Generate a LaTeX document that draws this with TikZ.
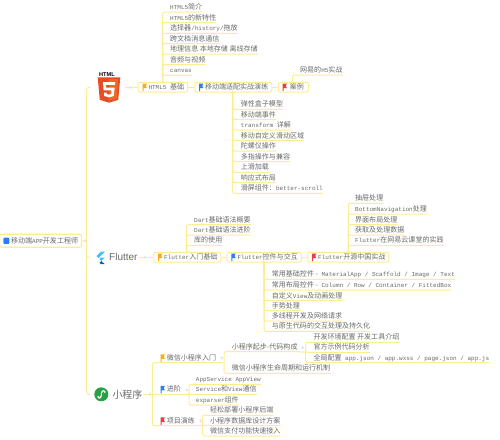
\documentclass[tikz,border=0pt]{standalone}
\usepackage{fontspec}
\setmainfont{Liberation Mono}
\setsansfont{Liberation Sans}
\newfontfamily\cjk[Scale=1.17]{Noto Sans CJK SC}
\newcommand{\zh}[1]{{\cjk #1}}
\definecolor{trunk}{RGB}{255,236,145}
\definecolor{inktext}{RGB}{105,105,105}
\definecolor{dotblue}{RGB}{222,230,245}
\definecolor{flagorange}{RGB}{255,170,20}
\definecolor{flagblue}{RGB}{45,125,250}
\definecolor{flagred}{RGB}{240,60,60}
\definecolor{htmlred}{RGB}{228,77,38}
\definecolor{htmlorange}{RGB}{241,101,41}
\definecolor{flutlight}{RGB}{70,190,245}
\definecolor{flutdark}{RGB}{20,100,170}
\definecolor{miniGreen}{RGB}{40,160,70}
\usepackage{tikz}
\usetikzlibrary{positioning,calc}

\begin{document}
\begin{tikzpicture}[x=1pt,y=-1pt,
          link/.style={draw=trunk,line width=1pt,rounded corners=2pt},
          leaf/.style={anchor=south west,inner xsep=0pt,inner ysep=1pt,text=inktext,
                      font=\fontsize{6}{7}\selectfont,text height=5.5pt,text depth=1.2pt},
          frame/.style={draw=trunk,line width=1pt,rounded corners=2pt,anchor=west,text=inktext,
                      font=\fontsize{6}{7}\selectfont,inner ysep=0pt,inner xsep=3.5pt},
          box/.style={frame,minimum height=9.8pt,execute at begin node=\hspace*{6.8pt}},
          rootbox/.style={frame,line width=1.2pt,minimum height=13pt,execute at begin node=\hspace*{8pt}},
          title/.style={anchor=west,inner sep=0pt,text=inktext},
          dot/.style={circle,fill=dotblue,inner sep=0pt,minimum size=3.2pt},
          knob/.style={circle,fill=trunk,inner sep=0pt,minimum size=3pt}
        ]
        \useasboundingbox (0,0) rectangle (500,439);
        % root and main branch
        \node[rootbox] (root) at (-1,240.7) {\zh{移动端}APP\zh{开发工程师}};
        \coordinate (main) at (86.7,240.7);
        \coordinate (mhtml) at (90,87.4);
        \coordinate (mflut) at (90,257.2);
        \coordinate (mmini) at (90,394.3);
        \draw[link] (root) -- (main);
        \draw[link] (main) |- (mhtml);
        \draw[link] (main) |- (mmini);
        \draw[link] (main) -- (main |- mflut) -- (mflut);
        \node[dot] (rootdot) at (84.7,240.7) {};

        % html5 topic
        \node[title,font=\sffamily\bfseries\fontsize{5.6}{6}\selectfont,text=black] (htmlname) at (99,74.3) {HTML};
        \fill[htmlred] (97.7,77.3) -- (120.3,77.3) -- (118.2,99.8) -- (109,102.7) -- (99.8,99.8) -- cycle;
        \fill[htmlorange] (109,79) -- (118.2,79) -- (116.6,98.6) -- (109,100.8) -- cycle;
        \fill[white] (103,82) -- (115.2,82) -- (114.9,84.8) -- (106,84.8) -- (106.2,87.7) -- (114.6,87.7) -- (113.8,96) -- (109,97.4) -- (104.2,96) -- (103.9,92.6) -- (106.6,92.6) -- (106.8,94) -- (109,94.7) -- (111.2,94) -- (111.5,90.4) -- (103.6,90.4) -- cycle;
        \node[box] (basic) at (137.7,87.2) {HTML5 \zh{基础}};
        \node[box] (mobile) at (194.3,87.2) {\zh{移动端适配实战演练}};
        \node[box] (case) at (278,87.2) {\hspace*{1pt}\zh{案例}\hspace*{1pt}};
        \coordinate (htmlend) at (125,87.4);
        \draw[link] (htmlend) -- (basic);
        \draw[link] (basic) -- (mobile);
        \draw[link] (mobile) -- (case);
        \node[dot] (htmldot) at (130,87.4) {};

        \coordinate (basictop) at (162.7,82.3);
        \node[leaf] (h1) at (170,12)   {HTML5\zh{简介}};
        \node[leaf] (h2) at (170,22.7) {HTML5\zh{的新特性}};
        \node[leaf] (h3) at (170,33.3) {\zh{选择器}/history/\zh{拖放}};
        \node[leaf] (h4) at (170,43.7) {\zh{跨文档消息通信}};
        \node[leaf] (h5) at (170,54)   {\zh{地理信息 本地存储 离线存储}};
        \node[leaf] (h6) at (170,64.7) {\zh{音频与视频}};
        \node[leaf] (h7) at (170,75.3) {canvas};
        \foreach \n in {h1,h2,h3,h4,h5,h6,h7}
          \draw[link] (basictop) |- (\n.south east);

        \coordinate (casetop) at (292.7,82.3);
        \node[leaf] (c1) at (300,75) {\zh{网易的}H5\zh{实战}};
        \draw[link] (casetop) |- (c1.south east);

        \coordinate (mobilebot) at (232.7,92.1);
        \node[leaf] (m1) at (240.7,109.3) {\zh{弹性盒子模型}};
        \node[leaf] (m2) at (240.7,119.7) {\zh{移动端事件}};
        \node[leaf] (m3) at (240.7,130)   {transform \zh{详解}};
        \node[leaf] (m4) at (240.7,140.7) {\zh{移动自定义滑动区域}};
        \node[leaf] (m5) at (240.7,151)   {\zh{陀螺仪操作}};
        \node[leaf] (m6) at (240.7,161.7) {\zh{多指操作与兼容}};
        \node[leaf] (m7) at (240.7,172.3) {\zh{上滑加载}};
        \node[leaf] (m8) at (240.7,182.7) {\zh{响应式布局}};
        \node[leaf] (m9) at (240.7,193.3) {\zh{滑屏组件：}better-scroll};
        \foreach \n in {m1,m2,m3,m4,m5,m6,m7,m8,m9}
          \draw[link] (mobilebot) |- (\n.south east);

        % flutter topic
        \fill[flutlight] (100.8,251.7) -- (104.8,251.7) -- (98.4,258.1) -- (96.4,256.1) -- cycle;
        \fill[flutlight] (100.8,257.6) -- (104.8,257.6) -- (101.4,261) -- (99.4,259) -- cycle;
        \fill[flutdark] (99.4,262.9) -- (101.4,261) -- (104.8,264.2) -- (100.8,264.2) -- cycle;
        \node[title,font=\sffamily\fontsize{10}{11}\selectfont] (fluttername) at (109,257.2) {Flutter};
        \node[box] (fstart) at (153.3,257.2) {Flutter\zh{入门基础}};
        \node[box] (fctrl) at (226.7,257.2) {Flutter\zh{控件与交互}};
        \node[box] (fproj) at (307.3,257.2) {Flutter\zh{开源中国实战}};
        \draw[link] (fluttername) -- (fstart);
        \draw[link] (fstart) -- (fctrl);
        \draw[link] (fctrl) -- (fproj);
        \node[dot] (flutdot) at (145,257.2) {};

        \coordinate (fstarttop) at (186.7,252.3);
        \node[leaf] (d1) at (194,224.7) {Dart\zh{基础语法概要}};
        \node[leaf] (d2) at (194,235)   {Dart\zh{基础语法进阶}};
        \node[leaf] (d3) at (194,245.3) {\zh{库的使用}};
        \foreach \n in {d1,d2,d3}
          \draw[link] (fstarttop) |- (\n.south east);

        \coordinate (fprojtop) at (348.3,252.3);
        \node[leaf] (p1) at (355,203.3) {\zh{抽屉处理}};
        \node[leaf] (p2) at (355,214)   {BottomNavigation\zh{处理}};
        \node[leaf] (p3) at (355,224.7) {\zh{界面布局处理}};
        \node[leaf] (p4) at (355,235)   {\zh{获取及处理数据}};
        \node[leaf] (p5) at (355,245.3) {Flutter\zh{在网易云课堂的实践}};
        \foreach \n in {p1,p2,p3,p4,p5}
          \draw[link] (fprojtop) |- (\n.south east);

        \coordinate (fctrlbot) at (264,262.1);
        \node[leaf] (k1) at (271.7,279.3) {\zh{常用基础控件 -} MaterialApp / Scaffold / Image / Text};
        \node[leaf] (k2) at (271.7,290)   {\zh{常用布局控件 -} Column / Row / Container / FittedBox};
        \node[leaf] (k3) at (271.7,300.7) {\zh{自定义}View\zh{及动画处理}};
        \node[leaf] (k4) at (271.7,310.7) {\zh{手势处理}};
        \node[leaf] (k5) at (271.7,321)   {\zh{多线程开发及网络请求}};
        \node[leaf] (k6) at (271.7,331.3) {\zh{与原生代码的交互处理及持久化}};
        \foreach \n in {k1,k2,k3,k4,k5,k6}
          \draw[link] (fctrlbot) |- (\n.south east);

        % mini program topic
        \fill[miniGreen] (101.3,394.3) circle (7);
        \draw[white,line width=1.2pt] (98,396) .. controls (98,399) and (101,398.5) .. (101.3,395.5) -- (101.5,393) .. controls (102,390) and (105,390) .. (105,392.7);
        \node[title,font=\fontsize{8.5}{10}\selectfont] (mininame) at (112.3,394.3) {\zh{小程序}};
        \coordinate (minifork) at (152.3,394.3);
        \draw[link] (mininame) -- (minifork);
        \node[dot] (minidot) at (150,394.3) {};
        \node[leaf] (w1) at (166.7,362.7) {\zh{微信小程序入门}};
        \node[leaf] (w2) at (166.7,394.3) {\zh{进阶}};
        \node[leaf] (w3) at (166.7,425.7) {\zh{项目演练}};
        \draw[link] (minifork) |- (222.7,362.7);
        \draw[link] (minifork) |- (196.7,425.7);
        \draw[link] (minifork) -- (185,394.3);
        \node[dot] (w1dot) at (221.7,358) {};
        \node[dot] (w2dot) at (186.7,390) {};
        \node[dot] (w3dot) at (200.7,421) {};

        \coordinate (w1fork) at (224,362.7);
        \node[leaf] (s1) at (231.7,351.7) {\zh{小程序起步-代码构成}};
        \node[leaf] (s2) at (231.7,373.3) {\zh{微信小程序生命周期和运行机制}};
        \foreach \n in {s1,s2}
          \draw[link] (w1fork) |- (\n.south east);
        \node[dot] (s1dot) at (302.7,347.7) {};
        \coordinate (s1fork) at (305.7,352.3);
        \draw[link] (s1.south east) -- (s1fork);
        \node[leaf] (t1) at (313.3,342.3) {\zh{开发环境配置 开发工具介绍}};
        \node[leaf] (t2) at (313.3,352.3) {\zh{官方示例代码分析}};
        \node[leaf] (t3) at (313.3,362.7) {\zh{全局配置} app.json / app.wxss / page.json / app.js};
        \foreach \n in {t1,t2,t3}
          \draw[link] (s1fork) |- (\n.south east);

        \coordinate (w2fork) at (189,394.3);
        \draw[link] (185,394.3) -- (w2fork);
        \node[leaf] (a1) at (195.7,384.3) {AppService AppView};
        \node[leaf] (a2) at (195.7,394.3) {Service\zh{和}View\zh{通信}};
        \node[leaf] (a3) at (195.7,405)   {exparser\zh{组件}};
        \foreach \n in {a1,a2,a3}
          \draw[link] (w2fork) |- (\n.south east);

        \coordinate (w3fork) at (202.7,425.7);
        \draw[link] (196.7,425.7) -- (w3fork);
        \node[leaf] (e1) at (210,415.3) {\zh{轻松部署小程序后端}};
        \node[leaf] (e2) at (210,425.7) {\zh{小程序数据库设计方案}};
        \node[leaf] (e3) at (210,436)   {\zh{微信支付功能快速接入}};
        \foreach \n in {e1,e2,e3}
          \draw[link] (w3fork) |- (\n.south east);

        % small knobs where a branch leaves its box
        \foreach \p in {basictop,casetop,mobilebot,fstarttop,fprojtop,fctrlbot}
          \node[knob] at (\p) {};
        % flags
        \foreach \c/\x/\y in {flagorange/142.5/87.2,flagblue/199/87.2,flagred/282.5/87.2,
                              flagorange/158/257.2,flagblue/231.3/257.2,flagred/312/257.2,
                              flagorange/160.5/358,flagblue/160.5/389.5,flagred/160.5/421}
          \fill[\c] (\x,\y-3.6) -- (\x+4.4,\y-3.6) -- (\x+3.2,\y-1.4) -- (\x+4.4,\y+0.8) -- (\x+1,\y+0.8) -- (\x+1,\y+3.8) -- (\x,\y+3.8) -- cycle;
        % root badge
        \fill[flagblue,rounded corners=1pt] (3.4,237.7) rectangle (9.4,243.9);
      \end{tikzpicture}
\end{document}
